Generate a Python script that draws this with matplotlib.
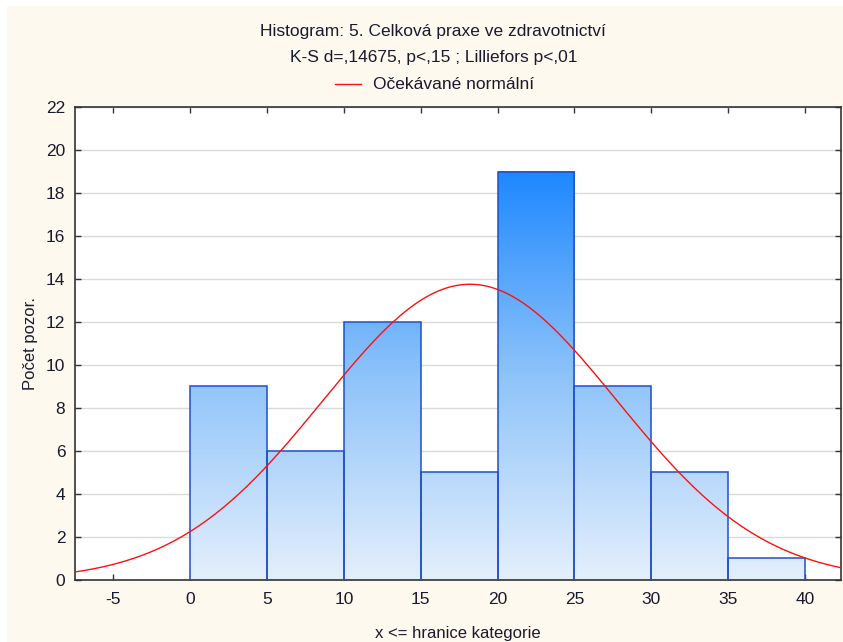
import numpy as np
import matplotlib.pyplot as plt
from matplotlib.colors import LinearSegmentedColormap
from matplotlib.lines import Line2D
from matplotlib.ticker import FuncFormatter

plt.rcParams['font.family'] = ['Liberation Sans', 'DejaVu Sans']

# histogram bins (upper bounds: x <= boundary) and counts
bin_left = [0, 5, 10, 15, 20, 25, 30, 35]
bin_width = 5
counts = [9, 6, 12, 5, 19, 9, 5, 1]

# parameters of the expected normal curve
mean_x = 18.2
sd_x = 9.57
n_obs = sum(counts)

title1 = "Histogram: 5. Celková praxe ve zdravotnictví"
title2 = "K-S d=,14675, p<,15 ; Lilliefors p<,01"
legend_txt = "Očekávané normální"

BG = "#FEF9EE"
EDGE = "#1F50C8"
TXT = "#1A1A2E"
cmap = LinearSegmentedColormap.from_list("bars", ["#E4EFFC", "#8EC3FA", "#1E88FF"])

fig = plt.figure(figsize=(8.43, 6.42), dpi=100, facecolor=BG)
# thin white margin at top / left
fig.add_artist(plt.Rectangle((0, 1 - 6 / 642), 1, 6 / 642, facecolor="white",
                             edgecolor="none", transform=fig.transFigure, zorder=-10))
fig.add_artist(plt.Rectangle((0, 0), 7 / 843, 1, facecolor="white",
                             edgecolor="none", transform=fig.transFigure, zorder=-10))

ax = fig.add_axes([0.089, 0.0966, 0.9086, 0.7367])
ax.set_facecolor("white")

top = max(counts)
for x0, h in zip(bin_left, counts):
    grad = np.linspace(0, h, 200).reshape(-1, 1)
    ax.imshow(grad, extent=(x0, x0 + bin_width, 0, h), origin="lower",
              aspect="auto", cmap=cmap, vmin=0, vmax=top, zorder=2,
              interpolation="bilinear")
    ax.add_patch(plt.Rectangle((x0, 0), bin_width, h, fill=False,
                               edgecolor=EDGE, lw=1.1, zorder=3))

xs = np.linspace(-7.5, 42.5, 400)
ys = n_obs * bin_width / (sd_x * np.sqrt(2 * np.pi)) * np.exp(-0.5 * ((xs - mean_x) / sd_x) ** 2)
ax.plot(xs, ys, color="#FF1010", lw=1.0, zorder=4)

ax.set_xlim(-7.5, 42.35)
ax.set_ylim(0, 22)
ax.set_xticks(np.arange(-5, 41, 5))
ax.set_yticks(np.arange(0, 23, 2))
ax.xaxis.set_major_formatter(FuncFormatter(lambda v, p: f"{v:.0f}".replace("\u2212", "-")))
ax.yaxis.grid(True, color="#DADADA", lw=1.0, zorder=0)
ax.set_axisbelow(True)
ax.tick_params(direction="in", top=True, right=True, length=4, width=1,
               labelsize=12.5, colors="#333333", labelcolor=TXT, pad=9)
ax.tick_params(axis="y", pad=7)
for sp in ax.spines.values():
    sp.set_color("#333333")
    sp.set_linewidth(1.2)

ax.set_ylabel("Počet pozor.", fontsize=12, labelpad=6, color=TXT)
ax.set_xlabel("x <= hranice kategorie", fontsize=12, labelpad=13, color=TXT)

fig.text(0.514, 0.951, title1, ha="center", va="center", fontsize=12.5, color=TXT)
fig.text(0.514, 0.910, title2, ha="center", va="center", fontsize=12.5, color=TXT)
fig.add_artist(Line2D([0.397, 0.428], [0.869, 0.869], color="#FF1010", lw=1.0,
                      transform=fig.transFigure))
fig.text(0.442, 0.869, legend_txt, ha="left", va="center", fontsize=12.5, color=TXT)

fig.savefig("out.png", dpi=100, facecolor=BG)
